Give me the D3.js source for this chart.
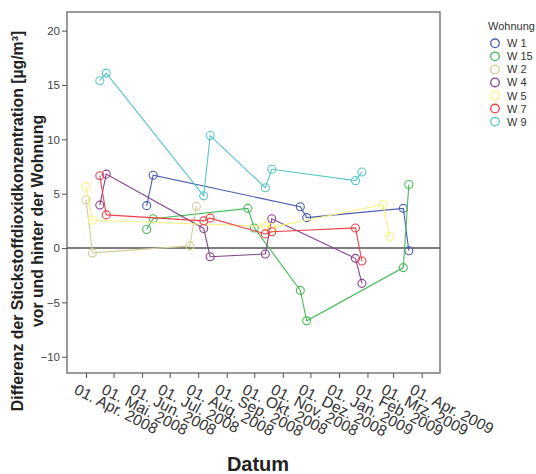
<!DOCTYPE html>
<html><head><meta charset="utf-8">
<script src="https://cdn.jsdelivr.net/npm/d3@7"></script>
<style>
body{margin:0;background:#fff;}
svg{display:block;font-family:Arial,"Liberation Sans",sans-serif;}
</style></head>
<body><svg id="c" width="536" height="474"></svg>
<script>
// ---- data ----
const wohnungen = ["W 1","W 15","W 2","W 4","W 5","W 7","W 9"];
const colors = ["#4a5db2","#45bb58","#D3CE97","#86428e","#f7f27a","#ec4247","#56c6c9"];
const datesW1  = ["2008-06-06","2008-06-13","2008-11-20","2008-11-27","2009-03-12","2009-03-18"];
const valuesW1 = [3.9, 6.7, 3.8, 2.8, 3.65, -0.25];
const datesW15  = ["2008-06-06","2008-06-13","2008-09-24","2008-10-01","2008-11-20","2008-11-27","2009-03-12","2009-03-18"];
const valuesW15 = [1.7, 2.7, 3.65, 1.85, -3.9, -6.7, -1.8, 5.85];
const datesW2  = ["2008-04-01","2008-04-08","2008-07-23","2008-07-30"];
const valuesW2 = [4.45, -0.45, 0.2, 3.85];
const datesW4  = ["2008-04-16","2008-04-23","2008-08-07","2008-08-14","2008-10-13","2008-10-20","2009-01-19","2009-01-26"];
const valuesW4 = [3.95, 6.8, 1.8, -0.8, -0.55, 2.7, -0.95, -3.25];
const datesW5  = ["2008-04-01","2008-04-08","2008-10-13","2008-10-20","2009-02-18","2009-02-25"];
const valuesW5 = [5.65, 2.55, 2.0, 1.9, 4.0, 1.05];
const datesW7  = ["2008-04-16","2008-04-23","2008-08-07","2008-08-14","2008-10-13","2008-10-20","2009-01-19","2009-01-26"];
const valuesW7 = [6.65, 3.05, 2.5, 2.75, 1.3, 1.5, 1.85, -1.2];
const datesW9  = ["2008-04-16","2008-04-23","2008-08-07","2008-08-14","2008-10-13","2008-10-20","2009-01-19","2009-01-26"];
const valuesW9 = [15.4, 16.1, 4.8, 10.35, 5.55, 7.25, 6.2, 7.0];
const xTickDates  = ["2008-04-01","2008-05-01","2008-06-01","2008-07-01","2008-08-01","2008-09-01","2008-10-01","2008-11-01","2008-12-01","2009-01-01","2009-02-01","2009-03-01","2009-04-01"];
const xTickLabels = ["01. Apr. 2008","01. Mai. 2008","01. Jun. 2008","01. Jul. 2008","01. Aug. 2008","01. Sep. 2008","01. Okt. 2008","01. Nov. 2008","01. Dez. 2008","01. Jan. 2009","01. Feb. 2009","01. Mrz. 2009","01. Apr. 2009"];
const yTicks = [-10, -5, 0, 5, 10, 15, 20];

const seriesDates = [datesW1, datesW15, datesW2, datesW4, datesW5, datesW7, datesW9];
const seriesValues = [valuesW1, valuesW15, valuesW2, valuesW4, valuesW5, valuesW7, valuesW9];

// ---- layout ----
const parse = d3.utcParse("%Y-%m-%d");
const frame = {l:67, t:12, r:440, b:373};
const x = d3.scaleUtc().domain([parse("2008-04-01"), parse("2009-04-01")]).range([86, 421.7]);
const y = d3.scaleLinear().domain([-10, 20]).range([356.7, 30.7]);

const svg = d3.select("#c");

// frame
svg.append("rect").attr("x",frame.l).attr("y",frame.t)
  .attr("width",frame.r-frame.l).attr("height",frame.b-frame.t)
  .attr("fill","none").attr("stroke","#7a7a7a").attr("stroke-width",1.5);

// y axis
const yAxis = svg.append("g").attr("transform",`translate(${frame.l},0)`)
  .call(d3.axisLeft(y).tickValues(yTicks).tickSize(5).tickPadding(2).tickFormat(d3.format("d")));
yAxis.select(".domain").remove();
yAxis.selectAll("line").attr("stroke","#555");
yAxis.selectAll("text").attr("fill","#444").style("font-size","11.5px").style("font-family","Arial, 'Liberation Sans', sans-serif");

// x axis
const xAxis = svg.append("g").attr("transform",`translate(0,${frame.b})`)
  .call(d3.axisBottom(x).tickValues(xTickDates.map(parse)).tickSize(5)
    .tickFormat((d,i)=>xTickLabels[i]));
xAxis.select(".domain").remove();
xAxis.selectAll("line").attr("stroke","#555");
xAxis.selectAll("text")
  .attr("fill","#333").style("font-size","15.5px").style("font-family","Arial, 'Liberation Sans', sans-serif")
  .attr("text-anchor","start").attr("dy",null).attr("y",null)
  .attr("transform","translate(-13.5,20) rotate(27)");

// zero line
svg.append("line").attr("x1",frame.l).attr("x2",frame.r)
  .attr("y1",y(0)).attr("y2",y(0)).attr("stroke","#555").attr("stroke-width",1.5);

// series
const line = d3.line().x(d=>x(d[0])).y(d=>y(d[1]));
wohnungen.forEach((w,i)=>{
  const pts = seriesDates[i].map((d,j)=>[parse(d), seriesValues[i][j]]);
  const g = svg.append("g");
  g.append("path").datum(pts).attr("d",line).attr("fill","none")
    .attr("stroke",colors[i]).attr("stroke-width",1.1);
  g.selectAll("circle").data(pts).join("circle")
    .attr("cx",d=>x(d[0])).attr("cy",d=>y(d[1])).attr("r",4)
    .attr("fill","none").attr("stroke",colors[i]).attr("stroke-width",1.1);
});

// axis titles
svg.append("text").attr("x",258).attr("y",471).attr("text-anchor","middle")
  .style("font-size","20px").style("font-weight","bold").attr("fill","#222").text("Datum");
const yt = svg.append("text").attr("transform","translate(0,221) rotate(-90)")
  .attr("text-anchor","middle").style("font-size","15.8px").style("font-weight","bold").attr("fill","#222");
yt.append("tspan").attr("x",0).attr("y",23).text("Differenz der Stickstoffdioxidkonzentration [µg/m³]");
yt.append("tspan").attr("x",0).attr("y",43).text("vor und hinter der Wohnung");

// legend
const lg = svg.append("g");
lg.append("text").attr("x",488).attr("y",30).style("font-size","11px").attr("fill","#333").text("Wohnung");
wohnungen.forEach((w,i)=>{
  const cy = 43.3 + i*13.05;
  lg.append("circle").attr("cx",495).attr("cy",cy).attr("r",4.3)
    .attr("fill","none").attr("stroke",colors[i]).attr("stroke-width",1.3);
  lg.append("text").attr("x",507).attr("y",cy+4).style("font-size","11px").attr("fill","#333").text(w);
});
</script></body></html>
